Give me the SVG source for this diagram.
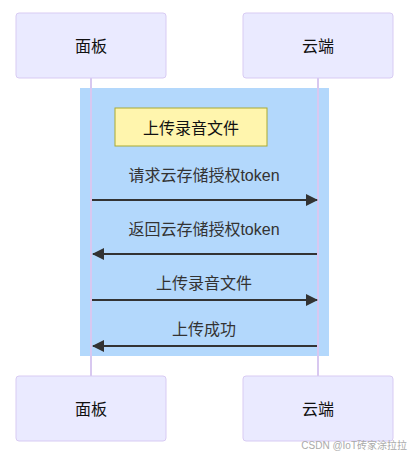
<svg xmlns="http://www.w3.org/2000/svg" width="411" height="456" viewBox="0 0 411 456">
<defs>
<style>
.actor{fill:#eaeaff;stroke:#d8cbf3;stroke-width:1}
.atext{font-family:"Liberation Sans","Noto Sans CJK SC",sans-serif;font-size:16px;fill:#111;text-anchor:middle;dominant-baseline:central}
.mtext{font-family:"Liberation Sans","Noto Sans CJK SC",sans-serif;font-size:16px;fill:#333;text-anchor:middle;dominant-baseline:central}
.life{stroke:#d8c8f0;stroke-width:2}
.msg{stroke:#333;stroke-width:2;fill:none}
</style>
<marker id="arrow" markerWidth="12" markerHeight="12" refX="11" refY="6" orient="auto" markerUnits="userSpaceOnUse">
<path d="M0,0 L12,6 L0,12 z" fill="#333"/>
</marker>
</defs>
<rect width="411" height="456" fill="#fff"/>
<g id="lifelines">
<line class="life" x1="91" y1="78" x2="91" y2="376"/>
<line class="life" x1="318" y1="78" x2="318" y2="376"/>
</g>
<g id="loop-rect">
<rect x="80" y="88" width="249" height="268" fill="#b3d8fc"/>
</g>
<g id="lifelines-front">
<line class="life" x1="91" y1="88" x2="91" y2="356"/>
<line class="life" x1="318" y1="88" x2="318" y2="356"/>
</g>
<g id="actor-panel-top">
<rect class="actor" x="16" y="13" width="150" height="65" rx="3"/>
<text class="atext" x="91" y="46">面板</text>
</g>
<g id="actor-cloud-top">
<rect class="actor" x="243" y="13" width="150" height="65" rx="3"/>
<text class="atext" x="318" y="46">云端</text>
</g>
<g id="note">
<rect x="115" y="108" width="152" height="38" fill="#fff5ad" stroke="#aaaa33" stroke-width="1"/>
<text class="mtext" x="191" y="128" style="fill:#111">上传录音文件</text>
</g>
<g id="connectors">
<line class="msg" x1="92" y1="200" x2="317" y2="200" marker-end="url(#arrow)"/>
<line class="msg" x1="317" y1="254" x2="93" y2="254" marker-end="url(#arrow)"/>
<line class="msg" x1="92" y1="300" x2="317" y2="300" marker-end="url(#arrow)"/>
<line class="msg" x1="317" y1="346" x2="93" y2="346" marker-end="url(#arrow)"/>
<text class="mtext" x="204" y="175">请求云存储授权token</text>
<text class="mtext" x="204" y="229">返回云存储授权token</text>
<text class="mtext" x="204" y="283">上传录音文件</text>
<text class="mtext" x="204" y="329">上传成功</text>
</g>
<g id="actor-panel-bottom">
<rect class="actor" x="16" y="376" width="150" height="65" rx="3"/>
<text class="atext" x="91" y="409">面板</text>
</g>
<g id="actor-cloud-bottom">
<rect class="actor" x="243" y="376" width="150" height="65" rx="3"/>
<text class="atext" x="318" y="409">云端</text>
</g>
<text x="407" y="449" font-family="Liberation Sans,'Noto Sans CJK SC',sans-serif" font-size="10" fill="#aaa" text-anchor="end">CSDN @IoT砖家涂拉拉</text>
</svg>
